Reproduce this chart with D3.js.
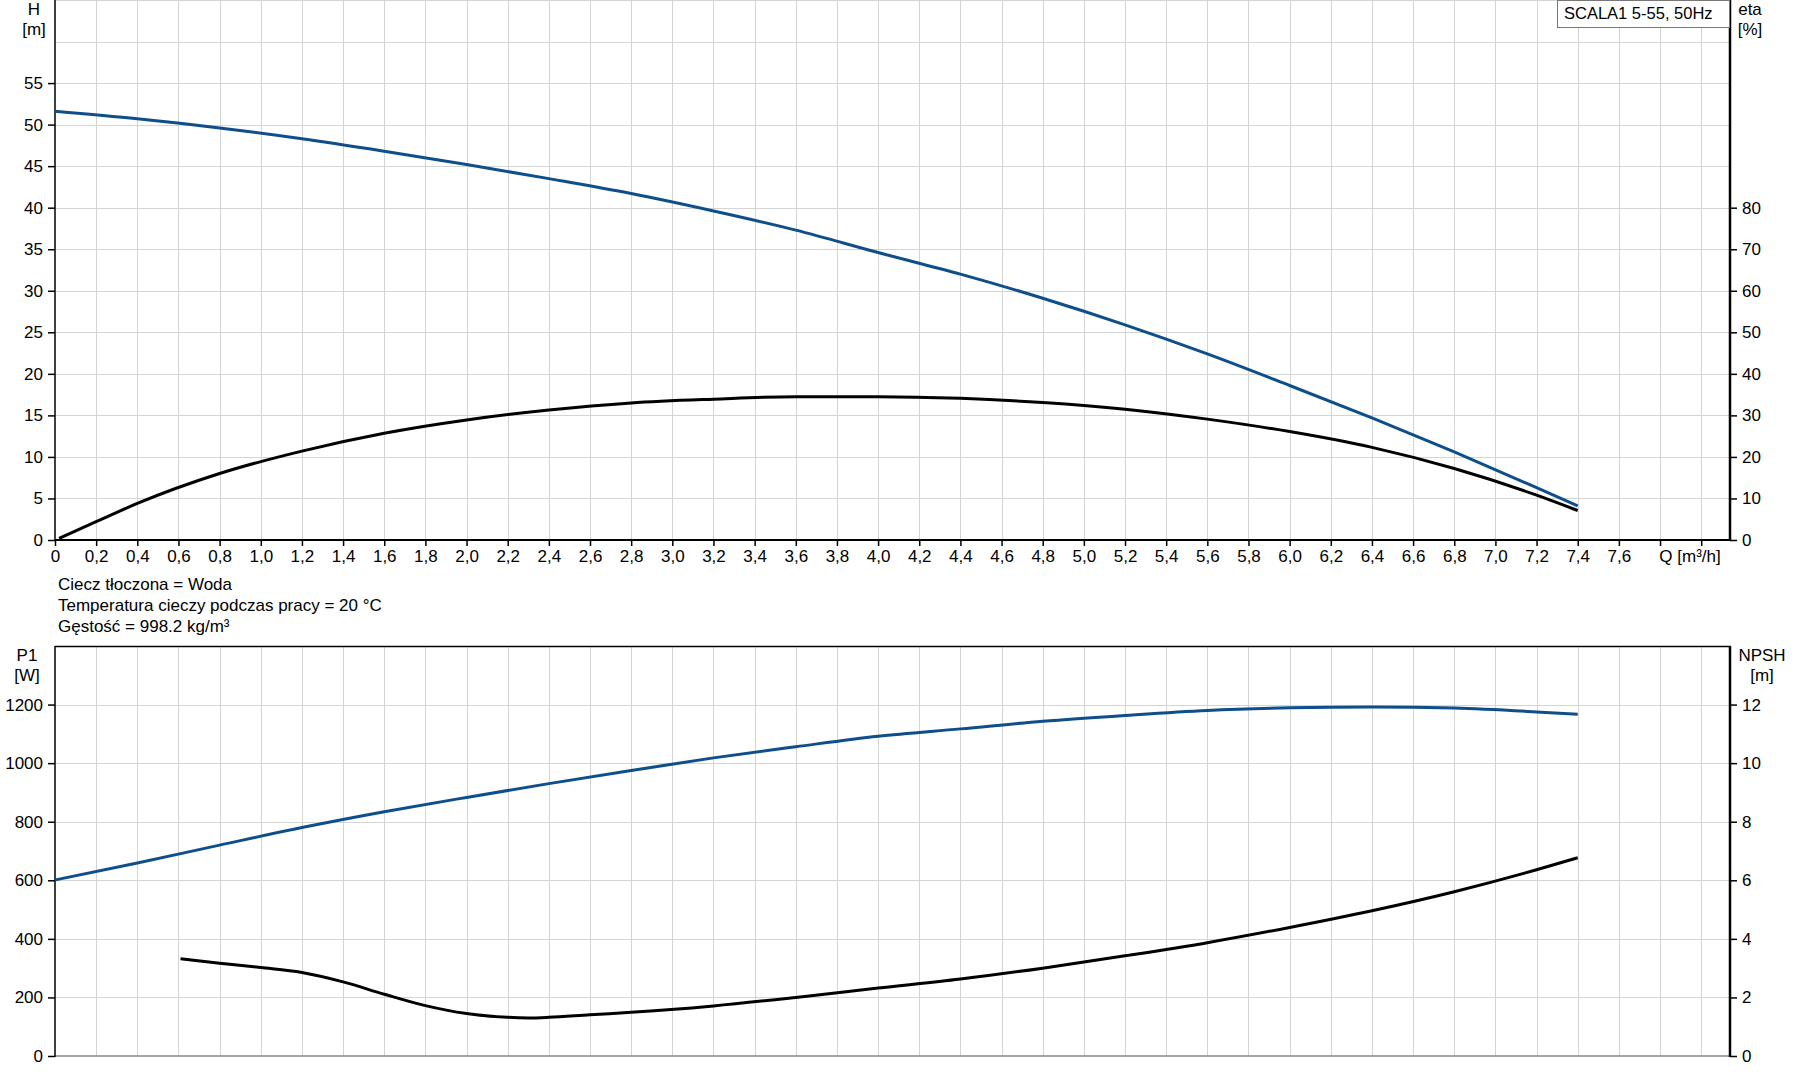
<!DOCTYPE html>
<html lang="pl">
  <head>
    <meta charset="UTF-8">
    <title>SCALA1 5-55, 50Hz</title>
    <style>
      body { margin: 0; background: #fff; }
      svg text { font-family: Arial, "Liberation Sans", sans-serif; fill: #000; }
    </style>
  </head>
  <body>
<div id="my_dataviz"></div>
<script src="https://d3js.org/d3.v7.min.js"></script>
<script>

// ---- data ----
var qMain = [0, 0.4, 0.8, 1.2, 1.6, 2.0, 2.4, 2.8, 3.2, 3.6, 4.0, 4.4, 4.8, 5.2, 5.6, 6.0, 6.4, 6.8, 7.2, 7.4]
var headH = [51.6, 50.7, 49.6, 48.3, 46.8, 45.2, 43.5, 41.7, 39.6, 37.3, 34.6, 32.0, 29.1, 25.9, 22.4, 18.6, 14.7, 10.6, 6.3, 4.1]
var powerP1 = [601, 659, 720, 780, 834, 883, 930, 975, 1018, 1056, 1092, 1117, 1143, 1163, 1180, 1189, 1192, 1188, 1175, 1167]

var qEta = [0.02, 0.2, 0.4, 0.8, 1.2, 1.6, 2.0, 2.4, 2.8, 3.2, 3.6, 4.0, 4.4, 4.8, 5.2, 5.6, 6.0, 6.4, 6.8, 7.2, 7.4]
var etaPct = [0.4, 4.4, 8.8, 16.0, 21.4, 25.7, 28.9, 31.3, 33.0, 33.9, 34.5, 34.5, 34.1, 33.1, 31.5, 29.1, 26.1, 22.3, 17.2, 10.8, 7.1]

var qNpsh = [0.61, 0.8, 1.0, 1.2, 1.4, 1.6, 1.8, 2.0, 2.2, 2.3, 2.4, 2.6, 2.8, 3.2, 3.6, 4.0, 4.4, 4.8, 5.2, 5.6, 6.0, 6.4, 6.8, 7.2, 7.4]
var npshM = [3.32, 3.17, 3.02, 2.85, 2.53, 2.11, 1.72, 1.45, 1.32, 1.30, 1.32, 1.41, 1.49, 1.71, 2.0, 2.32, 2.63, 3.0, 3.42, 3.87, 4.39, 4.96, 5.61, 6.36, 6.77]

// ---- ticks ----
var qTicks = d3.range(0, 41).map(function(i) { return +(i * 0.2).toFixed(1) })
var qLabelMax = 7.6
var hTicks = d3.range(0, 60, 5)
var etaTicks = d3.range(0, 90, 10)
var p1Ticks = d3.range(0, 1400, 200)
var npshTicks = d3.range(0, 14, 2)

var notes = ["Ciecz tłoczona = Woda", "Temperatura cieczy podczas pracy = 20 °C", "Gęstość = 998.2 kg/m³"]
var title = "SCALA1 5-55, 50Hz"

var blue = "#0e4e8a"
var gridColor = "#d4d4d4"
var fs = "17px"

var width = 1795
    height = 1081

var svg = d3.select("#my_dataviz")
  .append("svg")
    .attr("width", width)
    .attr("height", height)

var x = d3.scaleLinear().domain([0, 8.14]).range([55, 1730])
var yH = d3.scaleLinear().domain([0, 65]).range([540, 0])
var yEta = d3.scaleLinear().domain([0, 130]).range([540, 0])
var yP = d3.scaleLinear().domain([0, 1400]).range([1056, 646])
var yN = d3.scaleLinear().domain([0, 14]).range([1056, 646])

var commaFmt = function(d) { return d === 0 ? "0" : d3.format(".1f")(d).replace(".", ",") }
var intFmt = d3.format("d")

// grid for both panels
function grid(yScale, hValues, top, bottom) {
  var g = svg.append("g").attr("stroke", gridColor).attr("stroke-width", 1)
  g.selectAll("line.v")
    .data(qTicks.filter(function(d) { return d > 0 }))
    .enter().append("line")
      .attr("x1", function(d) { return Math.round(x(d)) + 0.5 })
      .attr("x2", function(d) { return Math.round(x(d)) + 0.5 })
      .attr("y1", top)
      .attr("y2", bottom)
  g.selectAll("line.h")
    .data(hValues)
    .enter().append("line")
      .attr("x1", x(0))
      .attr("x2", x.range()[1])
      .attr("y1", function(d) { return Math.round(yScale(d)) + 0.5 })
      .attr("y2", function(d) { return Math.round(yScale(d)) + 0.5 })
}
grid(yH, d3.range(5, 70, 5), 0, 540)
grid(yP, d3.range(200, 1400, 200), 646, 1056)

function styleAxis(g) {
  g.select(".domain").remove()
  g.selectAll(".tick line").attr("stroke", "#000").attr("stroke-width", 1.5)
  g.selectAll("text").style("font-size", fs).attr("fill", "#000")
}

// ---- top panel axes ----
svg.append("g")
  .attr("transform", "translate(0,540)")
  .call(d3.axisBottom(x).tickValues(qTicks).tickSize(6).tickSizeOuter(0).tickPadding(4)
    .tickFormat(function(d) { return d <= qLabelMax ? commaFmt(d) : "" }))
  .call(styleAxis)

svg.append("g")
  .attr("transform", "translate(55,0)")
  .call(d3.axisLeft(yH).tickValues(hTicks).tickSize(7).tickSizeOuter(0).tickPadding(5).tickFormat(intFmt))
  .call(styleAxis)

svg.append("g")
  .attr("transform", "translate(1730,0)")
  .call(d3.axisRight(yEta).tickValues(etaTicks).tickSize(7).tickSizeOuter(0).tickPadding(5).tickFormat(intFmt))
  .call(styleAxis)

// ---- bottom panel axes ----
svg.append("g")
  .attr("transform", "translate(55,0)")
  .call(d3.axisLeft(yP).tickValues(p1Ticks).tickSize(7).tickSizeOuter(0).tickPadding(5).tickFormat(intFmt))
  .call(styleAxis)

svg.append("g")
  .attr("transform", "translate(1730,0)")
  .call(d3.axisRight(yN).tickValues(npshTicks).tickSize(7).tickSizeOuter(0).tickPadding(5).tickFormat(intFmt))
  .call(styleAxis)

// frame lines
svg.append("line").attr("x1", 55).attr("x2", 1730).attr("y1", 540).attr("y2", 540).attr("stroke", "#000").attr("stroke-width", 2)
svg.append("line").attr("x1", 55).attr("x2", 55).attr("y1", 0).attr("y2", 541).attr("stroke", "#000").attr("stroke-width", 1.5)
svg.append("line").attr("x1", 1730).attr("x2", 1730).attr("y1", 0).attr("y2", 541).attr("stroke", "#000").attr("stroke-width", 2.5)

svg.append("line").attr("x1", 55).attr("x2", 1731).attr("y1", 646.5).attr("y2", 646.5).attr("stroke", "#000").attr("stroke-width", 1.5)
svg.append("line").attr("x1", 55).attr("x2", 1730).attr("y1", 1056).attr("y2", 1056).attr("stroke", "#888").attr("stroke-width", 1.5)
svg.append("line").attr("x1", 55).attr("x2", 55).attr("y1", 646).attr("y2", 1057).attr("stroke", "#000").attr("stroke-width", 1.5)
svg.append("line").attr("x1", 1730).attr("x2", 1730).attr("y1", 646).attr("y2", 1057).attr("stroke", "#000").attr("stroke-width", 2.5)

// Q axis title
svg.append("text")
  .attr("x", 1690).attr("y", 562)
  .attr("text-anchor", "middle")
  .style("font-size", fs)
  .text("Q [m³/h]")

// axis unit labels
function unitLabel(cx, y1, t1, t2) {
  svg.append("text").attr("x", cx).attr("y", y1).attr("text-anchor", "middle").style("font-size", fs).text(t1)
  svg.append("text").attr("x", cx).attr("y", y1 + 20).attr("text-anchor", "middle").style("font-size", fs).text(t2)
}
unitLabel(34, 15, "H", "[m]")
unitLabel(1750, 15, "eta", "[%]")
unitLabel(27, 661, "P1", "[W]")
unitLabel(1762, 661, "NPSH", "[m]")

// notes
svg.selectAll("text.note")
  .data(notes)
  .enter().append("text")
    .attr("class", "note")
    .attr("x", 58)
    .attr("y", function(d, i) { return 590 + i * 21 })
    .style("font-size", fs)
    .text(function(d) { return d })

// title box
svg.append("rect")
  .attr("x", 1557.5).attr("y", 0.5)
  .attr("width", 172).attr("height", 27)
  .attr("fill", "#fff").attr("stroke", "#777")
svg.append("text")
  .attr("x", 1564).attr("y", 19)
  .style("font-size", "16.5px")
  .text(title)

// ---- curves ----
function drawCurve(qs, vs, yScale, color) {
  var pts = qs.map(function(q, i) { return [q, vs[i]] })
  svg.append("path")
    .datum(pts)
    .attr("fill", "none")
    .attr("stroke", color)
    .attr("stroke-width", 3)
    .attr("d", d3.line()
      .x(function(d) { return x(d[0]) })
      .y(function(d) { return yScale(d[1]) })
      .curve(d3.curveMonotoneX))
}
drawCurve(qMain, headH, yH, blue)
drawCurve(qEta, etaPct, yEta, "#000")
drawCurve(qMain, powerP1, yP, blue)
drawCurve(qNpsh, npshM, yN, "#000")

</script>
  </body>
</html>
